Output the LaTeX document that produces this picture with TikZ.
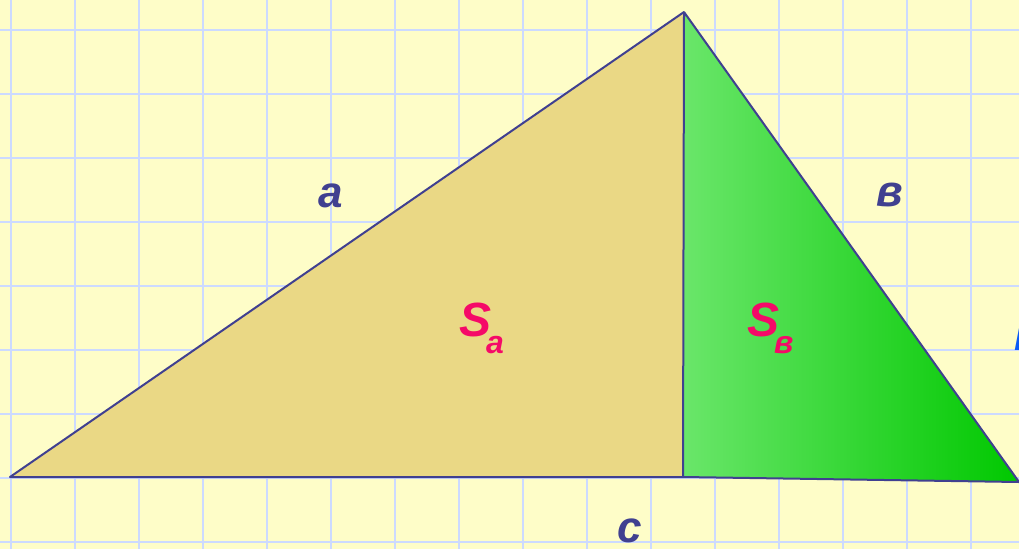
\documentclass[tikz,border=0pt]{standalone}
\usepackage{fontspec}
\setmainfont{Liberation Sans}
\definecolor{bgyellow}{HTML}{FEFDC8}
\definecolor{gridblue}{HTML}{CCDAFF}
\definecolor{tan}{HTML}{EAD885}
\definecolor{greenlight}{HTML}{6AE66A}
\definecolor{greendark}{HTML}{00C800}
\definecolor{edge}{HTML}{404090}
\definecolor{pinkS}{HTML}{F50A68}
\definecolor{bluelbl}{HTML}{0A5AF5}
\tikzset{
  gridline/.style={gridblue, line width=1.5pt},
  edgeline/.style={edge, line width=2pt, line join=round},
  sidelabel/.style={edge, font=\fontsize{44}{44}\selectfont\bfseries\itshape, inner sep=0pt, anchor=base},
  arealabel/.style={pinkS, font=\bfseries\itshape, inner sep=0pt, anchor=base west},
}
\newcommand{\bigS}{{\fontsize{48}{48}\selectfont S}}
\newcommand{\subl}[1]{\kern-5pt\raisebox{-17pt}{\fontsize{32}{32}\selectfont #1}}
\begin{document}
\begin{tikzpicture}[x=1pt,y=-1pt]
\clip (0,0) rectangle (1019,549);
\fill[bgyellow] (0,0) rectangle (1019,549);
\foreach \i in {0,...,15} \draw[gridline] ({11+64*\i},0) -- ({11+64*\i},549);
\foreach \j in {0,...,8} \draw[gridline] (0,{30+64*\j}) -- (1019,{30+64*\j});
\coordinate (A) at (10,477);
\coordinate (B) at (684,12);
\coordinate (H) at (683,477);
\coordinate (C) at (1019,482);
\fill[tan] (A) -- (B) -- (H) -- cycle;
\shade[left color=greenlight, right color=greendark] (B) -- (C) -- (H) -- cycle;
\draw[edgeline] (H) -- (A) -- (B) -- (C) -- (H) -- (B);
\node[sidelabel] (la) at (331,207) {a};
\node[sidelabel] (lb) at (890,206) {в};
\node[sidelabel] (lc) at (630,542) {c};
\node[arealabel] (sa) at (459,336) {\bigS\subl{a}};
\node[arealabel] (sb) at (747,336) {\bigS\subl{в}};
\node[sidelabel, bluelbl, anchor=base west] (lh) at (1014,350) {h};
\end{tikzpicture}
\end{document}
